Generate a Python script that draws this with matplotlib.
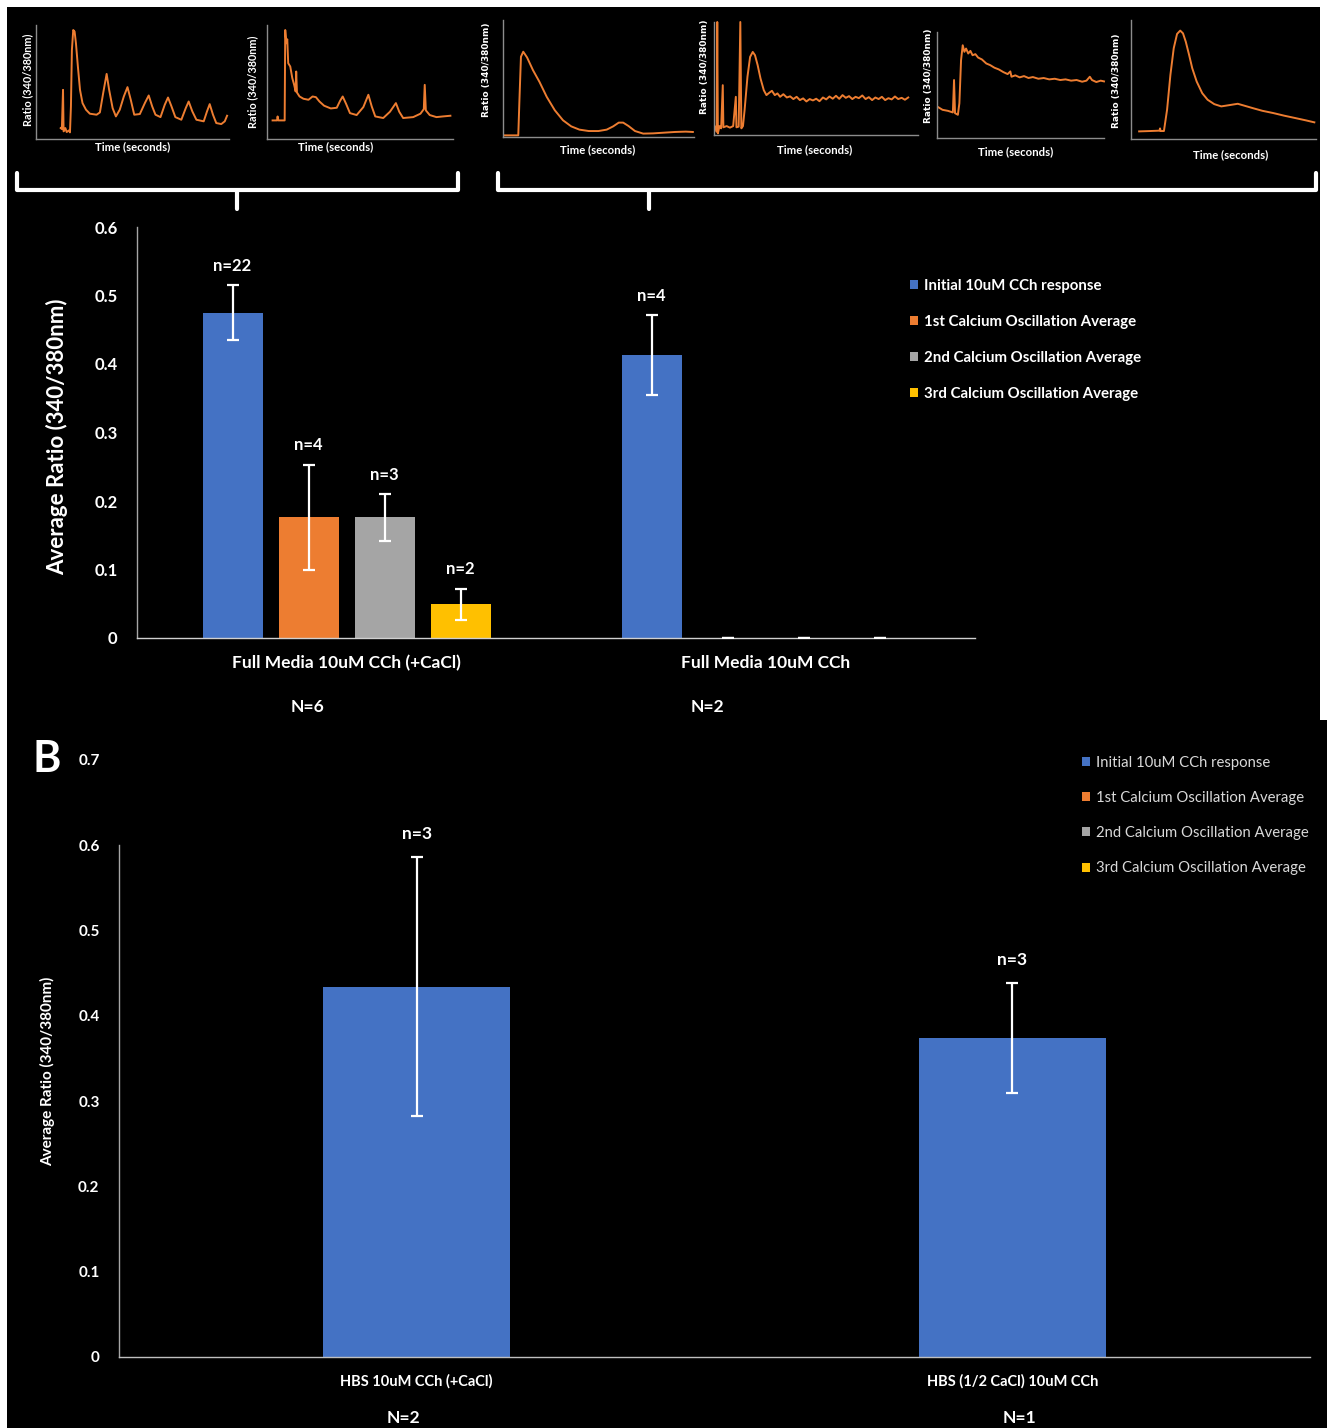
import matplotlib
matplotlib.use("Agg")
import matplotlib.pyplot as plt
from matplotlib.patches import Rectangle, Patch

plt.rcParams["font.family"] = ["Lato", "DejaVu Sans"]

# ---- data -----------------------------------------------------------------
series_names = ["Initial 10uM CCh response", "1st Calcium Oscillation Average",
                "2nd Calcium Oscillation Average", "3rd Calcium Oscillation Average"]
series_colors = ["#4472C4", "#ED7D31", "#A5A5A5", "#FFC000"]

a_groups = ["Full Media 10uM CCh (+CaCl)", "Full Media 10uM CCh"]
a_means = [[0.475, 0.413], [0.176, 0.0], [0.176, 0.0], [0.049, 0.0]]
a_errors = [[0.040, 0.058], [0.077, 0.0], [0.034, 0.0], [0.023, 0.0]]
a_counts = [["n=22", "n=4"], ["n=4", ""], ["n=3", ""], ["n=2", ""]]
a_big_n = ["N=6", "N=2"]

b_groups = ["HBS 10uM CCh (+CaCl)", "HBS (1/2 CaCl) 10uM CCh"]
b_means = [0.434, 0.374]
b_errors = [0.152, 0.065]
b_counts = ["n=3", "n=3"]
b_big_n = ["N=2", "N=1"]

# example calcium traces (time in % of recording, ratio normalised)
trace1_t = [12.8, 13.4, 14.0, 14.3, 15.2, 15.9, 17.1, 17.6, 18.1, 18.6, 19.3, 20.0, 20.7, 21.7, 22.8,
            24.1, 25.9, 27.9, 31.4, 33.1, 34.8, 36.6, 37.9, 39.7, 41.4, 43.4, 45.5, 47.4, 49.1, 50.9,
            53.8, 56.4, 58.4, 60.2, 61.9, 64.5, 66.7, 68.4, 70.2, 72.2, 75.3, 77.6, 79.1, 81.0, 83.1,
            86.9, 88.6, 90.0, 91.7, 93.4, 96.0, 97.8, 99.0]
trace1_r = [0.096, 0.087, 0.431, 0.067, 0.096, 0.061, 0.076, 0.058, 0.286, 0.781, 0.956, 0.942, 0.840,
            0.636, 0.431, 0.315, 0.257, 0.222, 0.213, 0.233, 0.402, 0.571, 0.431, 0.271, 0.198, 0.257,
            0.373, 0.455, 0.344, 0.213, 0.219, 0.315, 0.382, 0.286, 0.213, 0.192, 0.300, 0.364, 0.286,
            0.192, 0.169, 0.271, 0.329, 0.242, 0.169, 0.155, 0.242, 0.306, 0.213, 0.140, 0.131, 0.155,
            0.204]

trace2_t = [3.0, 5.4, 5.7, 6.1, 9.5, 9.8, 10.4, 10.9, 11.4, 12.5, 13.6, 14.6, 15.4, 15.7, 16.1, 17.5,
            19.6, 22.3, 24.5, 26.3, 28.2, 30.7, 34.3, 37.5, 39.3, 40.7, 42.5, 44.6, 48.2, 51.8, 54.5,
            56.3, 58.2, 62.5, 66.1, 69.3, 71.1, 73.2, 78.6, 82.5, 84.3, 84.8, 85.4, 87.5, 91.1, 94.6, 98.6]
trace2_r = [0.163, 0.163, 0.198, 0.163, 0.163, 0.956, 0.840, 0.875, 0.665, 0.636, 0.534, 0.475, 0.417,
            0.592, 0.408, 0.373, 0.353, 0.344, 0.373, 0.367, 0.329, 0.292, 0.268, 0.274, 0.335, 0.373,
            0.309, 0.227, 0.210, 0.280, 0.388, 0.286, 0.198, 0.184, 0.239, 0.315, 0.239, 0.184, 0.192,
            0.222, 0.262, 0.475, 0.251, 0.210, 0.192, 0.198, 0.204]

trace3_t = [0.6, 8.0, 8.6, 9.4, 10.6, 12.6, 15.7, 19.1, 22.9, 27.1, 31.4, 35.7, 40.0, 44.9, 50.0, 54.3,
            57.7, 60.6, 62.9, 65.7, 69.1, 73.4, 78.6, 84.3, 90.0, 95.7, 99.4]
trace3_r = [0.014, 0.014, 0.314, 0.686, 0.729, 0.680, 0.571, 0.471, 0.343, 0.229, 0.143, 0.091, 0.063,
            0.051, 0.051, 0.063, 0.091, 0.123, 0.123, 0.094, 0.051, 0.029, 0.031, 0.037, 0.043, 0.046,
            0.043]

trace4_t = [0.8, 1.3, 1.6, 1.9, 2.7, 3.5, 4.3, 4.6, 6.2, 7.8, 9.4, 10.7, 11.0, 12.1, 12.9, 13.4, 14.2,
            15.0, 16.4, 17.7, 19.0, 20.1, 21.4, 22.8, 24.4, 25.7, 27.1, 28.4, 29.8, 31.1, 32.4, 34.0,
            35.7, 37.3, 38.9, 40.5, 42.1, 43.7, 45.3, 46.9, 48.5, 50.1, 51.7, 53.4, 55.0, 56.6, 58.2,
            59.8, 61.4, 63.0, 64.6, 66.2, 67.8, 69.4, 71.0, 72.7, 74.3, 75.9, 77.5, 79.1, 80.7, 82.3,
            83.9, 85.5, 87.1, 88.7, 90.3, 92.0, 93.6, 95.2]
trace4_r = [0.074, 0.029, 1.0, 0.015, 0.079, 0.059, 0.441, 0.068, 0.079, 0.065, 0.079, 0.338, 0.068,
            0.074, 1.0, 0.059, 0.079, 0.221, 0.515, 0.691, 0.735, 0.706, 0.618, 0.500, 0.397, 0.353,
            0.374, 0.391, 0.353, 0.368, 0.338, 0.361, 0.332, 0.342, 0.318, 0.338, 0.309, 0.324, 0.297,
            0.318, 0.306, 0.321, 0.299, 0.332, 0.315, 0.341, 0.321, 0.347, 0.320, 0.353, 0.329, 0.344,
            0.318, 0.338, 0.326, 0.350, 0.318, 0.335, 0.309, 0.332, 0.318, 0.338, 0.309, 0.326, 0.315,
            0.341, 0.318, 0.329, 0.312, 0.332]

trace5_t = [0.7, 3.3, 6.6, 9.5, 10.2, 10.8, 12.5, 13.4, 14.4, 15.4, 16.4, 17.4, 18.7, 20.0, 21.3, 23.0,
            24.6, 26.9, 29.5, 31.8, 34.4, 37.0, 39.7, 42.3, 43.9, 44.6, 46.9, 49.5, 52.1, 54.8, 57.4,
            60.7, 63.9, 67.2, 70.5, 73.8, 77.0, 80.3, 83.6, 86.9, 89.5, 91.5, 92.8, 95.4, 98.0, 100.0]
trace5_r = [0.291, 0.266, 0.256, 0.241, 0.547, 0.234, 0.219, 0.328, 0.734, 0.875, 0.813, 0.844, 0.797,
            0.822, 0.781, 0.791, 0.759, 0.741, 0.703, 0.688, 0.663, 0.647, 0.622, 0.603, 0.628, 0.578,
            0.591, 0.572, 0.584, 0.566, 0.575, 0.559, 0.566, 0.553, 0.559, 0.547, 0.553, 0.541, 0.547,
            0.531, 0.541, 0.578, 0.547, 0.528, 0.541, 0.534]

trace6_t = [4.4, 10.4, 15.4, 15.7, 16.0, 17.8, 19.5, 21.3, 23.1, 24.9, 26.6, 28.1, 29.6, 31.4, 33.1,
            35.5, 38.5, 41.4, 45.0, 48.8, 53.3, 57.7, 61.5, 65.7, 71.0, 76.9, 82.8, 88.8, 94.7, 99.1]
trace6_r = [0.064, 0.067, 0.070, 0.089, 0.067, 0.067, 0.246, 0.539, 0.763, 0.883, 0.911, 0.888, 0.818,
            0.707, 0.595, 0.483, 0.385, 0.330, 0.293, 0.274, 0.285, 0.296, 0.279, 0.260, 0.237, 0.218,
            0.196, 0.176, 0.156, 0.140]

traces = [(trace1_t, trace1_r), (trace2_t, trace2_r), (trace3_t, trace3_r),
          (trace4_t, trace4_r), (trace5_t, trace5_r), (trace6_t, trace6_r)]

# ---- layout (pixels) ------------------------------------------------------
W, H = 1327, 1428


def box(left, top, right, bottom):
    return [left / W, 1 - bottom / H, (right - left) / W, (bottom - top) / H]


# panel box, y-label position, x-label position, y-label font
panels = [
    ((36, 25, 229, 139), (28, 80), (133, 147), "Lato"),
    ((267, 25, 453, 139), (253, 82), (336, 147), "Lato"),
    ((503, 20, 694, 137), (486, 70), (598, 150), "DejaVu Sans"),
    ((714, 22, 918, 135), (704, 67), (815, 150), "DejaVu Sans"),
    ((937, 32, 1104, 138), (928, 76), (1016, 152), "DejaVu Sans"),
    ((1131, 20, 1316, 139), (1117, 81), (1231, 155), "DejaVu Sans"),
]

fig = plt.figure(figsize=(W / 100, H / 100), dpi=100, facecolor="white")
fig.patches.append(Rectangle((7 / W, 1 - 720 / H), 1313 / W, 713 / H, transform=fig.transFigure,
                             facecolor="black", edgecolor="none", zorder=-10))
fig.patches.append(Rectangle((7 / W, 0), (W - 7) / W, (H - 720) / H, transform=fig.transFigure,
                             facecolor="black", edgecolor="none", zorder=-10))

# overlay in pixel units for loose labels and braces
ov = fig.add_axes([0, 0, 1, 1])
ov.set_xlim(0, W)
ov.set_ylim(H, 0)
ov.axis("off")
ov.patch.set_alpha(0)

# ---- small trace panels -----------------------------------------------------
for (rect, ylab_xy, xlab_xy, yfont), (t, r) in zip(panels, traces):
    ax = fig.add_axes(box(*rect))
    ax.set_facecolor("none")
    ax.plot(t, r, color="#ED7D31", lw=1.4, clip_on=False)
    ax.set_xlim(0, 100)
    ax.set_ylim(0, 1)
    ax.set_xticks([])
    ax.set_yticks([])
    for s in ["top", "right"]:
        ax.spines[s].set_visible(False)
    for s in ["left", "bottom"]:
        ax.spines[s].set_color("#8c8c8c")
        ax.spines[s].set_linewidth(1.0)
    ov.text(ylab_xy[0], ylab_xy[1], "Ratio (340/380nm)", rotation=90, ha="center", va="center",
            color="white", fontsize=6.5 if yfont != "Lato" else 7.8, fontweight="bold", family=yfont)
    ov.text(xlab_xy[0], xlab_xy[1], "Time (seconds)", ha="center", va="center",
            color="white", fontsize=8.2, fontweight="bold")

# braces grouping the traces
for x0, x1, xm in [(17, 458, 237), (498, 1316, 649)]:
    ov.plot([x0, x0, x1, x1], [173, 190, 190, 173], color="white", lw=3,
            solid_joinstyle="round", solid_capstyle="round")
    ov.plot([xm, xm], [190, 209], color="white", lw=3, solid_capstyle="round")

# ---- chart A ----------------------------------------------------------------
axA = fig.add_axes(box(137, 227, 975, 638))
axA.set_facecolor("none")
centers = [0.5, 1.5]
step = 76 / 419
width = 60 / 419
for i in range(4):
    xs = [c + (i - 1.5) * step for c in centers]
    axA.bar(xs, a_means[i], width, color=series_colors[i], label=series_names[i], zorder=2)
    axA.errorbar(xs, a_means[i], yerr=a_errors[i], fmt="none", ecolor="white",
                 elinewidth=1.6, capsize=4, capthick=1.6, zorder=3)
    for x, m, e, lab in zip(xs, a_means[i], a_errors[i], a_counts[i]):
        if lab:
            axA.annotate(lab, (x, m + e), xytext=(0, 14), textcoords="offset points",
                         ha="center", va="center", color="white", fontsize=12, fontweight="bold")

axA.set_xlim(0, 2)
axA.set_ylim(0, 0.6)
a_ticks = [0, 0.1, 0.2, 0.3, 0.4, 0.5, 0.6]
axA.set_yticks(a_ticks, ["0", "0.1", "0.2", "0.3", "0.4", "0.5", "0.6"], fontweight="bold")
axA.set_xticks(centers, a_groups, fontweight="bold")
axA.tick_params(axis="y", length=0, pad=14, labelsize=12, labelcolor="white")
axA.tick_params(axis="x", length=0, pad=12, labelsize=12.5, labelcolor="white")
for s in ["top", "right"]:
    axA.spines[s].set_visible(False)
axA.spines["left"].set_color("#a6a6a6")
axA.spines["bottom"].set_color("#d0d0d0")
axA.spines["left"].set_linewidth(1.0)
axA.spines["bottom"].set_linewidth(1.0)

axA.legend(loc="upper left", bbox_to_anchor=(910 / W, 1 - 279 / H), bbox_transform=fig.transFigure,
           frameon=False, labelcolor="white", handlelength=0.55, handleheight=0.55, handletextpad=0.4,
           labelspacing=1.47, borderpad=0, borderaxespad=0, prop={"weight": "bold", "size": 10.8})

ov.text(57, 437, "Average Ratio (340/380nm)", rotation=90, ha="center", va="center",
        color="white", fontsize=16, fontweight="bold")
for x, lab in zip([307, 707], a_big_n):
    ov.text(x, 707, lab, ha="center", va="center", color="white", fontsize=12.5, fontweight="bold")

# ---- chart B ----------------------------------------------------------------
axB = fig.add_axes(box(119, 760, 1310, 1357))
axB.set_facecolor("none")
axB.bar(centers, b_means, 187 / 595.5, color=series_colors[0], zorder=2)
axB.errorbar(centers, b_means, yerr=b_errors, fmt="none", ecolor="white",
             elinewidth=1.6, capsize=4, capthick=1.6, zorder=3)
for x, m, e, lab in zip(centers, b_means, b_errors, b_counts):
    axB.annotate(lab, (x, m + e), xytext=(0, 16.5), textcoords="offset points",
                 ha="center", va="center", color="white", fontsize=12.5, fontweight="bold")

axB.set_xlim(0, 2)
axB.set_ylim(0, 0.7)
b_ticks = [0, 0.1, 0.2, 0.3, 0.4, 0.5, 0.6, 0.7]
axB.set_yticks(b_ticks, ["0", "0.1", "0.2", "0.3", "0.4", "0.5", "0.6", "0.7"], fontweight="bold")
axB.set_xticks(centers, b_groups, fontweight="bold")
axB.tick_params(axis="y", length=0, pad=14, labelsize=11, labelcolor="white")
axB.tick_params(axis="x", length=0, pad=12, labelsize=10.5, labelcolor="white")
for s in ["top", "right"]:
    axB.spines[s].set_visible(False)
axB.spines["left"].set_bounds(0, 0.6)
axB.spines["left"].set_color("#a6a6a6")
axB.spines["bottom"].set_color("#bfbfbf")
axB.spines["left"].set_linewidth(1.0)
axB.spines["bottom"].set_linewidth(1.0)

b_handles = [Patch(facecolor=c, edgecolor="none") for c in series_colors]
axB.legend(b_handles, series_names, loc="upper left", bbox_to_anchor=(1082 / W, 1 - 756 / H),
           bbox_transform=fig.transFigure, frameon=False, labelcolor="#d9d9d9",
           handlelength=0.55, handleheight=0.55, handletextpad=0.4,
           labelspacing=1.42, borderpad=0, borderaxespad=0, prop={"size": 10.7})

ov.text(48, 1071, "Average Ratio (340/380nm)", rotation=90, ha="center", va="center",
        color="white", fontsize=11, fontweight="bold")
ov.text(33, 759, "B", ha="left", va="center", color="white", fontsize=31, fontweight="bold")
for x, lab in zip([403, 1020], b_big_n):
    ov.text(x, 1418, lab, ha="center", va="center", color="white", fontsize=12.5, fontweight="bold")

fig.savefig("out.png", dpi=100, facecolor="white")
